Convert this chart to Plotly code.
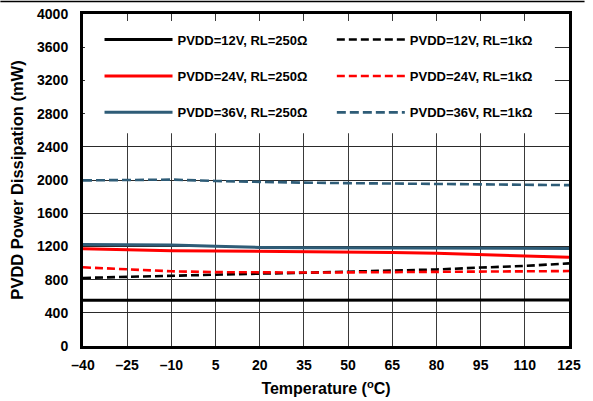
import plotly.graph_objects as go

temps = [-40, -25, -10, 5, 20, 35, 50, 65, 80, 95, 110, 125]
p12_250 = [552, 552, 552, 552, 552, 552, 552, 552, 552, 552, 552, 553]
p12_1k = [820, 835, 850, 862, 872, 882, 893, 905, 922, 945, 965, 995]
p24_250 = [1172, 1160, 1148, 1145, 1143, 1140, 1135, 1128, 1118, 1103, 1085, 1068]
p24_1k = [948, 920, 900, 890, 885, 885, 887, 890, 892, 895, 898, 903]
p36_250 = [1222, 1222, 1218, 1203, 1188, 1183, 1182, 1182, 1182, 1180, 1178, 1176]
p36_1k = [1995, 2000, 2005, 1988, 1976, 1968, 1962, 1958, 1954, 1950, 1945, 1938]

x_ticks = [-40, -25, -10, 5, 20, 35, 50, 65, 80, 95, 110, 125]
x_ticktext = ["\u201340", "\u201325", "\u201310", "5", "20", "35", "50", "65", "80", "95", "110", "125"]
y_ticks = [0, 400, 800, 1200, 1600, 2000, 2400, 2800, 3200, 3600, 4000]

BLUE = "#2E5C77"
FONT = "Arial, Liberation Sans, sans-serif"

series = [
    ("PVDD=12V, RL=250\u03a9", p12_250, "black", "solid", "legend"),
    ("PVDD=12V, RL=1k\u03a9", p12_1k, "black", "8px,4px", "legend2"),
    ("PVDD=24V, RL=1k\u03a9", p24_1k, "#FF0000", "8px,4px", "legend2"),
    ("PVDD=24V, RL=250\u03a9", p24_250, "#FF0000", "solid", "legend"),
    ("PVDD=36V, RL=250\u03a9", p36_250, BLUE, "solid", "legend"),
    ("PVDD=36V, RL=1k\u03a9", p36_1k, BLUE, "9px,4px", "legend2"),
]
rank = {"12": 1, "24": 2, "36": 3}

fig = go.Figure()
for name, vals, color, dash, leg in series:
    fig.add_trace(go.Scatter(
        x=temps, y=vals, mode="lines", name=name,
        line=dict(color=color, width=3 if dash == "solid" else 2.6, dash=dash),
        legend=leg, legendgroup=name, legendrank=rank[name[5:7]],
    ))

legend_common = dict(
    font=dict(family=FONT, size=13, color="black", weight="bold"),
    bgcolor="rgba(0,0,0,0)", borderwidth=0, itemwidth=68,
    tracegroupgap=16.5, traceorder="grouped", yanchor="top", xanchor="left",
)

fig.update_layout(
    width=593, height=401,
    margin=dict(l=83, r=24, t=14, b=55, autoexpand=False),
    paper_bgcolor="white", plot_bgcolor="white",
    font=dict(family=FONT, color="black"),
    showlegend=True,
    legend=dict(x=0.034, y=0.968, **legend_common),
    legend2=dict(x=0.512, y=0.968, **legend_common),
    xaxis=dict(
        range=[-40, 125], tickvals=x_ticks, ticktext=x_ticktext,
        showgrid=True, gridcolor="#3a3a3a", gridwidth=1,
        showline=True, linecolor="black", linewidth=3, mirror=True,
        ticks="", ticklabelstandoff=4, zeroline=False, automargin=False,
        tickfont=dict(family=FONT, size=14, color="black", weight="bold"),
        title=dict(text="Temperature (<sup>o</sup>C)", standoff=12,
                   font=dict(family=FONT, size=16, color="black", weight="bold")),
    ),
    yaxis=dict(
        range=[0, 4000], tickvals=y_ticks,
        showgrid=True, gridcolor="#2a2a2a", gridwidth=1,
        showline=True, linecolor="black", linewidth=3, mirror=True,
        ticks="", ticklabelstandoff=9, zeroline=False, automargin=False,
        tickfont=dict(family=FONT, size=14, color="black", weight="bold"),
        title=dict(text="PVDD Power Dissipation (mW)", standoff=10,
                   font=dict(family=FONT, size=16.5, color="black", weight="bold")),
    ),
    shapes=[
        dict(type="rect", xref="paper", yref="paper",
             x0=0.004, x1=0.971, y0=0.641, y1=0.979,
             fillcolor="white", line=dict(width=0), layer="above"),
        dict(type="line", xref="paper", yref="paper",
             x0=-0.17, x1=1.032, y0=1.0377, y1=1.0377,
             line=dict(color="black", width=1.5)),
    ],
)

fig.write_html("out.html", config={"displayModeBar": False},
               post_script="document.body.style.margin='0';document.body.style.padding='0';")
